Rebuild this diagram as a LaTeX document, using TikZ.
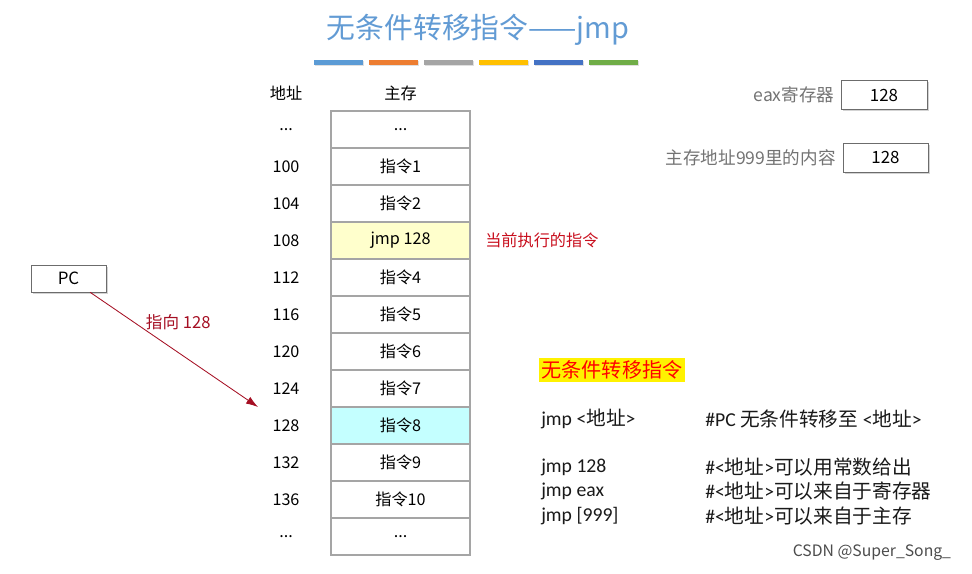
\documentclass[tikz,border=0pt]{standalone}
\usepackage{fontspec}
\setmainfont{Noto Sans CJK SC}
\newfontfamily\calfont{Carlito}
\usepackage{xcolor}
\usetikzlibrary{arrows.meta,positioning,shadows}
\definecolor{titleblue}{RGB}{98,155,212}
\definecolor{cellframe}{RGB}{165,165,165}
\definecolor{curyellow}{RGB}{255,255,204}
\definecolor{targetcyan}{RGB}{196,255,255}
\definecolor{pcred}{RGB}{165,15,35}
\definecolor{notered}{RGB}{200,15,30}
\definecolor{labelgray}{RGB}{115,115,115}
\definecolor{barA}{RGB}{91,155,213}
\definecolor{barB}{RGB}{237,125,49}
\definecolor{barC}{RGB}{165,165,165}
\definecolor{barD}{RGB}{255,192,0}
\definecolor{barE}{RGB}{68,114,196}
\definecolor{barF}{RGB}{112,173,71}

\begin{document}
\begin{tikzpicture}[
  x=0.025cm,y=-0.025cm,
  title/.style={text=titleblue,font=\fontsize{20.5}{24}\selectfont},
  head/.style={font=\fontsize{11.5}{13}\selectfont},
  cell/.style={draw=cellframe,line width=1.1pt,fill=white,minimum width=3.475cm,
    minimum height=0.925cm,inner sep=0pt,outer sep=0pt,font=\fontsize{11.5}{13}\selectfont},
  addr/.style={font=\fontsize{11.5}{13}\selectfont},
  reg/.style={draw=gray!85!black,fill=white,minimum height=0.72cm,inner sep=0pt,
    font=\fontsize{12}{14}\selectfont,
    drop shadow={shadow xshift=1.2pt,shadow yshift=-1.2pt,opacity=0.35}},
  reglabel/.style={text=labelgray,font=\fontsize{12.5}{14}\selectfont,inner sep=0pt},
  note/.style={text=notered,font=\fontsize{11.5}{13}\selectfont,inner sep=0pt},
  pcarr/.style={-{Latex[length=3mm,width=2mm]},pcred,line width=0.6pt},
  code/.style={anchor=west,inner sep=0pt,text=black!90,font=\fontsize{14}{16}\selectfont},
]
  \path[use as bounding box] (0,0) rectangle (972,573);

  % title and coloured bars
  \node[title] (title) at (478,30) {无条件转移指令——jmp};
  \foreach \c [count=\k from 0] in {barA,barB,barC,barD,barE,barF}
    \fill[\c,drop shadow={shadow xshift=0.6pt,shadow yshift=-0.8pt,opacity=0.25}]
      ({314+55*\k},60) rectangle ++(49,5);

  % main memory
  \node[head] (haddr) at (286,93) {地址};
  \node[head] (hmem) at (400.5,93) {主存};
  \node[cell] (m0) at (400.5,129.5) {...};
  \node[cell,below=0pt of m0] (m1) {指令1};
  \node[cell,below=0pt of m1] (m2) {指令2};
  \node[cell,below=0pt of m2,fill=curyellow] (m3) {jmp 128};
  \node[cell,below=0pt of m3] (m4) {指令4};
  \node[cell,below=0pt of m4] (m5) {指令5};
  \node[cell,below=0pt of m5] (m6) {指令6};
  \node[cell,below=0pt of m6] (m7) {指令7};
  \node[cell,below=0pt of m7,fill=targetcyan] (m8) {指令8};
  \node[cell,below=0pt of m8] (m9) {指令9};
  \node[cell,below=0pt of m9] (m10) {指令10};
  \node[cell,below=0pt of m10] (m11) {...};

  \node[addr] (a0) at (286,0 |- m0) {...};
  \node[addr] (a1) at (286,0 |- m1) {100};
  \node[addr] (a2) at (286,0 |- m2) {104};
  \node[addr] (a3) at (286,0 |- m3) {108};
  \node[addr] (a4) at (286,0 |- m4) {112};
  \node[addr] (a5) at (286,0 |- m5) {116};
  \node[addr] (a6) at (286,0 |- m6) {120};
  \node[addr] (a7) at (286,0 |- m7) {124};
  \node[addr] (a8) at (286,0 |- m8) {128};
  \node[addr] (a9) at (286,0 |- m9) {132};
  \node[addr] (a10) at (286,0 |- m10) {136};
  \node[addr] (a11) at (286,0 |- m11) {...};

  \node[note,right=0.375cm of m3] (cur) {当前执行的指令};

  % PC
  \node[reg,minimum width=1.875cm,minimum height=0.675cm] (pc) at (68.5,278.5) {PC};
  \coordinate (tip) at (258,407);
  \draw[pcarr] ([xshift=0.54cm]pc.south) -- node[pos=0.33,anchor=south west,inner sep=0pt,
    text=pcred,font=\fontsize{11.8}{13}\selectfont] (ptr) {指向 128} (tip);

  % registers
  \node[reg,minimum width=2.15cm] (eax) at (884,95) {128};
  \node[reglabel,left=0.15cm of eax] (eaxl) {eax寄存器};
  \node[reg,minimum width=2.125cm] (mem) at (885.5,157.5) {128};
  \node[reglabel,left=0.17cm of mem] (meml) {主存地址999里的内容};

  % jmp forms
  \node[fill=yellow,text=red,inner sep=2pt,font=\fontsize{14.3}{16}\selectfont] (hd) at (612,370) {无条件转移指令};
  \node[code] (j0) at (541,419) {{\calfont jmp <}地址{\calfont >}};
  \node[code] (c0) at (705,419) {{\calfont \#PC }无条件转移至{\calfont\ <}地址{\calfont >}};
  \node[code] (j1) at (541,467) {\calfont jmp 128};
  \node[code] (c1) at (705,467) {{\calfont \#<}地址{\calfont >}可以用常数给出};
  \node[code] (j2) at (541,491) {\calfont jmp eax};
  \node[code] (c2) at (705,491) {{\calfont \#<}地址{\calfont >}可以来自于寄存器};
  \node[code] (j3) at (541,516) {\calfont jmp [999]};
  \node[code] (c3) at (705,516) {{\calfont \#<}地址{\calfont >}可以来自于主存};

  \node[anchor=east,text=black!70,font=\fontsize{11.2}{13}\selectfont] (wm) at (956,553) {CSDN @Super\_Song\_};
\end{tikzpicture}
\end{document}
